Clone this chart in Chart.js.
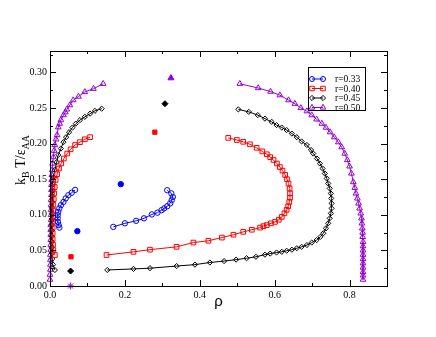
<!DOCTYPE html>
<html>
<head>
<meta charset="utf-8">
<script src="https://cdn.jsdelivr.net/npm/chart.js@4.4.1/dist/chart.umd.min.js"></script>
<style>
html,body{margin:0;padding:0;background:#fff;}
#wrap{width:436px;height:337px;position:relative;}
</style>
</head>
<body>
<div id="wrap"><canvas id="c" width="436" height="337"></canvas></div>
<script>
// ---------- data ----------
const seriesLabels = ['r=0.33', 'r=0.40', 'r=0.45', 'r=0.50'];
const xTickLabels = ['0.0', '0.2', '0.4', '0.6', '0.8'];
const yTickLabels = ['0.00', '0.05', '0.10', '0.15', '0.20', '0.25', '0.30'];

// r = 0.33
const r33LeftRho = [0.025,0.023,0.021,0.0205,0.0205,0.022,0.025,0.029,0.036,0.042,0.049,0.058,0.067];
const r33LeftT   = [0.082,0.0855,0.090,0.095,0.0995,0.104,0.109,0.1135,0.118,0.123,0.1275,0.131,0.135];
const r33RightRho = [0.169,0.200,0.230,0.251,0.272,0.287,0.298,0.305,0.313,0.321,0.325,0.328,0.324,0.313];
const r33RightT   = [0.083,0.088,0.0915,0.095,0.1005,0.103,0.1065,0.109,0.112,0.116,0.1205,0.125,0.130,0.1345];

// r = 0.40
const r40LeftRho = [0.013,0.009,0.008,0.007,0.007,0.007,0.007,0.008,0.008,0.009,0.010,0.011,0.0125,0.015,0.019,0.024,0.030,0.037,0.046,0.055,0.067,0.080,0.093,0.107];
const r40LeftT   = [0.0435,0.0505,0.058,0.066,0.074,0.082,0.090,0.098,0.106,0.114,0.122,0.130,0.139,0.149,0.157,0.165,0.172,0.179,0.186,0.192,0.198,0.202,0.206,0.209];
const r40RightRho = [0.151,0.223,0.267,0.338,0.383,0.423,0.459,0.490,0.516,0.539,0.561,0.570,0.579,0.590,0.601,0.611,0.619,0.626,0.632,0.636,0.639,0.641,0.641,0.640,0.637,0.633,0.628,0.621,0.614,0.606,0.597,0.588,0.579,0.567,0.552,0.534,0.516,0.499,0.476];
const r40RightT   = [0.0435,0.048,0.051,0.055,0.061,0.0635,0.068,0.072,0.076,0.079,0.082,0.084,0.0855,0.088,0.090,0.093,0.097,0.102,0.107,0.112,0.118,0.124,0.130,0.137,0.144,0.150,0.156,0.162,0.167,0.172,0.177,0.181,0.185,0.189,0.194,0.199,0.2025,0.205,0.208];

// r = 0.45
const r45LeftRho = [0.013,0.008,0.006,0.005,0.005,0.005,0.005,0.005,0.005,0.005,0.005,0.005,0.006,0.006,0.007,0.008,0.009,0.013,0.018,0.022,0.029,0.036,0.043,0.051,0.060,0.069,0.080,0.093,0.107,0.120,0.138];
const r45LeftT   = [0.0225,0.030,0.038,0.046,0.054,0.062,0.070,0.078,0.086,0.094,0.102,0.110,0.118,0.126,0.134,0.143,0.153,0.163,0.174,0.184,0.193,0.202,0.209,0.216,0.2225,0.228,0.233,0.2375,0.242,0.246,0.249];
const r45RightRho = [0.153,0.223,0.267,0.338,0.387,0.427,0.465,0.497,0.525,0.550,0.574,0.588,0.605,0.619,0.632,0.646,0.659,0.672,0.686,0.699,0.712,0.722,0.730,0.737,0.743,0.747,0.750,0.752,0.752,0.751,0.750,0.747,0.743,0.739,0.734,0.728,0.721,0.713,0.703,0.697,0.686,0.672,0.659,0.646,0.632,0.619,0.605,0.592,0.574,0.555,0.531,0.503];
const r45RightT   = [0.0225,0.024,0.025,0.028,0.030,0.033,0.035,0.037,0.039,0.041,0.044,0.0455,0.047,0.048,0.0495,0.051,0.053,0.055,0.0575,0.061,0.0645,0.069,0.074,0.081,0.088,0.095,0.102,0.109,0.116,0.123,0.130,0.137,0.144,0.151,0.158,0.165,0.172,0.179,0.186,0.191,0.198,0.203,0.209,0.214,0.219,0.2225,0.226,0.2305,0.235,0.240,0.2445,0.248];

// r = 0.50
const r50LeftRho = [0.000,0.000,0.001,0.001,0.001,0.001,0.002,0.002,0.002,0.002,0.002,0.002,0.003,0.003,0.003,0.003,0.003,0.004,0.004,0.004,0.0045,0.005,0.006,0.007,0.009,0.011,0.013,0.016,0.019,0.022,0.026,0.029,0.036,0.041,0.045,0.053,0.062,0.076,0.093,0.116,0.142];
const r50LeftT   = [0.009,0.016,0.023,0.030,0.037,0.044,0.051,0.058,0.065,0.072,0.079,0.086,0.093,0.100,0.107,0.114,0.121,0.128,0.135,0.142,0.149,0.156,0.163,0.172,0.181,0.190,0.198,0.206,0.212,0.223,0.228,0.233,0.240,0.244,0.248,0.254,0.261,0.266,0.2725,0.277,0.284];
const r50RightRho = [0.507,0.556,0.589,0.614,0.637,0.654,0.670,0.686,0.699,0.712,0.726,0.737,0.748,0.759,0.770,0.779,0.787,0.794,0.800,0.805,0.810,0.814,0.817,0.821,0.824,0.827,0.830,0.832,0.833,0.834,0.835,0.835,0.836,0.836,0.836,0.836,0.836,0.836,0.836,0.836,0.836,0.836];
const r50RightT   = [0.284,0.278,0.273,0.268,0.261,0.256,0.250,0.2455,0.240,0.234,0.228,0.2225,0.216,0.209,0.202,0.195,0.186,0.177,0.168,0.158,0.146,0.138,0.130,0.123,0.116,0.109,0.102,0.095,0.088,0.081,0.075,0.069,0.062,0.056,0.050,0.044,0.038,0.032,0.026,0.020,0.015,0.009];

// filled (critical) points
const r33FilledRho = [0.073, 0.189];
const r33FilledT   = [0.077, 0.143];
const r40FilledRho = [0.056, 0.280];
const r40FilledT   = [0.041, 0.216];
const r45FilledRho = [0.055, 0.307];
const r45FilledT   = [0.021, 0.256];
const r50FilledRho = [0.323];
const r50FilledT   = [0.292];
const r50StarRho = [0.055];
const r50StarT   = [0.000];

// ---------- styling ----------
const BLUE = '#0000ff', RED = '#ff0000', BLACK = '#000000', PURPLE = '#9400d3';
const SERIF = '"Liberation Serif","DejaVu Serif",serif';
const SANS = '"Liberation Sans","DejaVu Sans",sans-serif';

function pts(xs, ys){ return xs.map((x,i)=>({x:x, y:ys[i]})); }

function curve(xs, ys, color, style, radius, label){
  return {
    label: label || '',
    data: pts(xs, ys),
    showLine: true,
    borderColor: color,
    borderWidth: 1,
    backgroundColor: 'rgba(0,0,0,0)',
    pointBorderColor: color,
    pointBackgroundColor: 'rgba(0,0,0,0)',
    pointBorderWidth: 1,
    pointStyle: style,
    pointRadius: radius,
    pointHoverRadius: radius,
    tension: 0,
    clip: false
  };
}
function filled(xs, ys, color, style, radius){
  return {
    label: '',
    data: pts(xs, ys),
    showLine: false,
    borderColor: color,
    backgroundColor: color,
    pointBorderColor: color,
    pointBackgroundColor: color,
    pointBorderWidth: 1,
    pointStyle: style,
    pointRadius: radius,
    pointHoverRadius: radius,
    clip: false
  };
}

const legendItems = [
  {label: seriesLabels[0], color: BLUE, style: 'circle', radius: 2.5},
  {label: seriesLabels[1], color: RED, style: 'rect', radius: 3.2},
  {label: seriesLabels[2], color: BLACK, style: 'rectRot', radius: 2.6},
  {label: seriesLabels[3], color: PURPLE, style: 'triangle', radius: 3.2}
];

const datasets = [
  curve(r33LeftRho, r33LeftT, BLUE, 'circle', 2.7),
  curve(r33RightRho, r33RightT, BLUE, 'circle', 2.7),
  curve(r40LeftRho, r40LeftT, RED, 'rect', 3.3),
  curve(r40RightRho, r40RightT, RED, 'rect', 3.3),
  curve(r45LeftRho, r45LeftT, BLACK, 'rectRot', 2.6),
  curve(r45RightRho, r45RightT, BLACK, 'rectRot', 2.6),
  curve(r50LeftRho, r50LeftT, PURPLE, 'triangle', 3.3),
  curve(r50RightRho, r50RightT, PURPLE, 'triangle', 3.3),
  filled(r33FilledRho, r33FilledT, BLUE, 'circle', 2.7),
  filled(r40FilledRho, r40FilledT, RED, 'rect', 3.0),
  filled(r45FilledRho, r45FilledT, BLACK, 'rectRot', 3.0),
  filled(r50FilledRho, r50FilledT, PURPLE, 'triangle', 3.5),
  filled(r50StarRho, r50StarT, PURPLE, 'star', 3.5)
];

function drawMarker(ctx, style, x, y, r, color){
  ctx.save();
  ctx.strokeStyle = color; ctx.lineWidth = 1; ctx.fillStyle = 'rgba(0,0,0,0)';
  if (Chart.helpers && Chart.helpers.drawPoint) {
    Chart.helpers.drawPoint(ctx, {pointStyle: style, radius: r, rotation: 0, borderWidth: 1}, x, y);
  } else {
    ctx.beginPath(); ctx.arc(x, y, r, 0, Math.PI*2); ctx.stroke();
  }
  ctx.restore();
}

const framePlugin = {
  id: 'frame',
  afterDatasetsDraw(chart){
    const ctx = chart.ctx, a = chart.chartArea;
    const xs = chart.scales.x, ys = chart.scales.y;
    ctx.save();
    ctx.strokeStyle = '#000'; ctx.lineWidth = 1;
    ctx.strokeRect(Math.round(a.left)+0.5, Math.round(a.top)+0.5, Math.round(a.right-a.left), Math.round(a.bottom-a.top));
    ctx.beginPath();
    for (let i = 1; i <= 8; i++) {
      const v = i / 10;
      const px = Math.round(xs.getPixelForValue(v)) + 0.5;
      const len = (i % 2 === 0) ? 6 : 3;
      ctx.moveTo(px, a.bottom); ctx.lineTo(px, a.bottom - len);
      ctx.moveTo(px, a.top); ctx.lineTo(px, a.top + len);
    }
    for (let i = 1; i <= 13; i++) {
      const v = i * 0.025;
      if (v > 0.33) break;
      const py = Math.round(ys.getPixelForValue(v)) + 0.5;
      const len = (i % 2 === 0) ? 6 : 3;
      ctx.moveTo(a.left, py); ctx.lineTo(a.left + len, py);
      ctx.moveTo(a.right, py); ctx.lineTo(a.right - len, py);
    }
    ctx.stroke();
    ctx.restore();
  },
  afterDraw(chart){
    const ctx = chart.ctx, a = chart.chartArea;
    ctx.save();
    ctx.fillStyle = '#000';
    ctx.font = '15px ' + SANS;
    ctx.textAlign = 'center'; ctx.textBaseline = 'middle';
    ctx.fillText('ρ', (a.left + a.right)/2, 302);
    ctx.restore();
    // y title with subscripts: k_B T/ε_AA
    ctx.save();
    ctx.translate(20, 160);
    ctx.rotate(-Math.PI/2);
    ctx.fillStyle = '#000';
    ctx.textBaseline = 'alphabetic';
    const big = '14px ' + SERIF, small = '10px ' + SERIF;
    const parts = [['k', big, 0], ['B', small, 4], [' T/ε', big, 0], ['AA', small, 4]];
    let total = 0;
    parts.forEach(p => { ctx.font = p[1]; total += ctx.measureText(p[0]).width; });
    let x = -total/2;
    parts.forEach(p => { ctx.font = p[1]; ctx.fillText(p[0], x, 5 + p[2]); x += ctx.measureText(p[0]).width; });
    ctx.restore();
    // legend box
    ctx.save();
    const bx = 308.5, by = 67.5, bw = 57, bh = 43;
    ctx.fillStyle = '#fff';
    ctx.fillRect(bx, by, bw, bh);
    ctx.strokeStyle = '#000'; ctx.lineWidth = 1;
    ctx.strokeRect(bx, by, bw, bh);
    ctx.font = '9.5px ' + SERIF;
    ctx.textBaseline = 'middle'; ctx.textAlign = 'left';
    legendItems.forEach((it, i) => {
      const yy = 79 + i * 9.5;
      ctx.strokeStyle = it.color; ctx.lineWidth = 1;
      ctx.beginPath(); ctx.moveTo(312, yy); ctx.lineTo(323, yy); ctx.stroke();
      drawMarker(ctx, it.style, 312, yy, it.radius, it.color);
      drawMarker(ctx, it.style, 323, yy, it.radius, it.color);
      ctx.fillStyle = '#000';
      ctx.fillText(it.label, 335, yy + 0.5);
    });
    ctx.restore();
  }
};

new Chart(document.getElementById('c'), {
  type: 'scatter',
  data: { datasets: datasets },
  options: {
    responsive: false,
    animation: false,
    devicePixelRatio: 1,
    layout: { padding: { left: 0, top: 51, right: 49, bottom: 0 } },
    plugins: { legend: { display: false }, tooltip: { enabled: false }, title: { display: false } },
    scales: {
      x: {
        type: 'linear', min: 0, max: 0.9,
        grid: { display: false, drawTicks: false },
        border: { display: false },
        ticks: {
          stepSize: 0.2, includeBounds: false, padding: 3, color: '#000',
          font: { family: SERIF, size: 10 },
          autoSkip: false, maxRotation: 0,
          callback: (v) => { const i = Math.round(v / 0.2); return (Math.abs(v - i*0.2) < 1e-6 && i < xTickLabels.length) ? xTickLabels[i] : ''; }
        },
        afterFit: (s) => { s.height = 51; }
      },
      y: {
        type: 'linear', min: 0, max: 0.33,
        grid: { display: false, drawTicks: false },
        border: { display: false },
        ticks: {
          stepSize: 0.05, includeBounds: false, padding: 3, color: '#000',
          font: { family: SERIF, size: 10 },
          autoSkip: false,
          callback: (v) => { const i = Math.round(v / 0.05); return (Math.abs(v - i*0.05) < 1e-6 && i < yTickLabels.length) ? yTickLabels[i] : ''; }
        },
        afterFit: (s) => { s.width = 50; }
      }
    }
  },
  plugins: [framePlugin]
});
</script>
</body>
</html>
